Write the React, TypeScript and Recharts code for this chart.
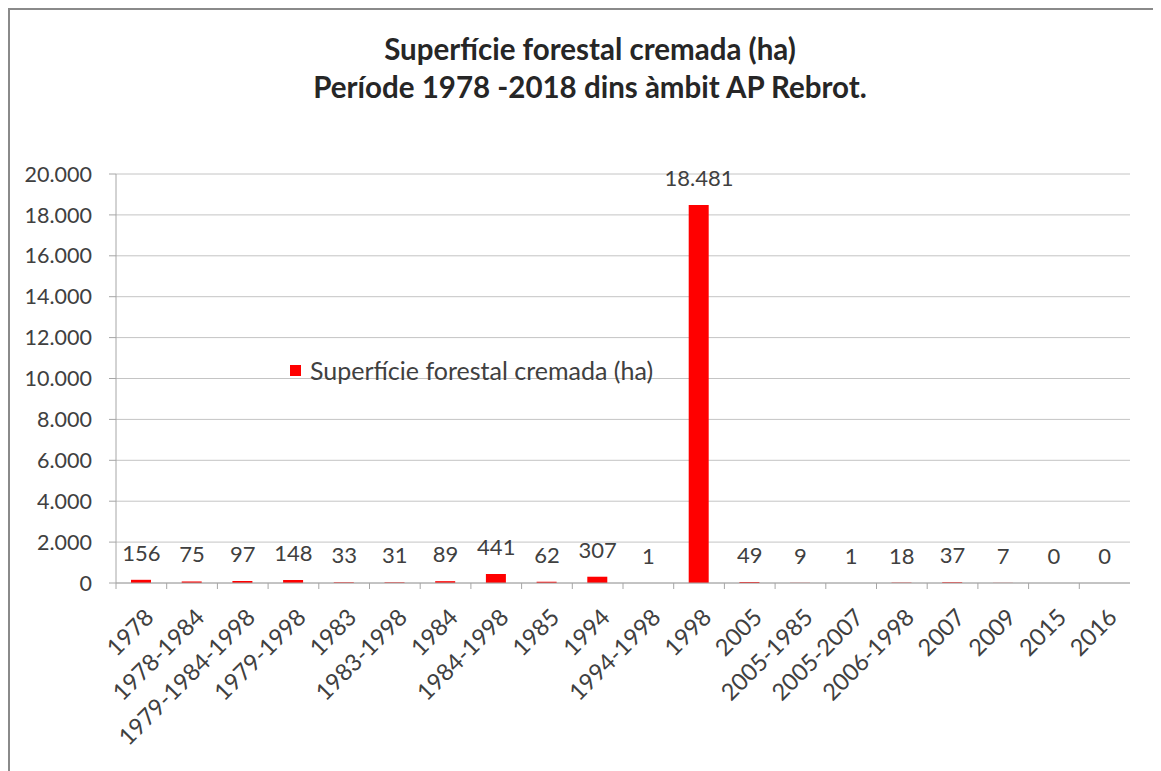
import { ComposedChart, Bar, Line, XAxis, YAxis, CartesianGrid, Legend, LabelList } from 'recharts'

const CATEGORIES = [
  '1978', '1978-1984', '1979-1984-1998', '1979-1998', '1983', '1983-1998', '1984',
  '1984-1998', '1985', '1994', '1994-1998', '1998', '2005', '2005-1985', '2005-2007',
  '2006-1998', '2007', '2009', '2015', '2016',
]
const HECTARES = [156, 75, 97, 148, 33, 31, 89, 441, 62, 307, 1, 18481, 49, 9, 1, 18, 37, 7, 0, 0]
const Y_TICKS = [0, 2000, 4000, 6000, 8000, 10000, 12000, 14000, 16000, 18000, 20000]

const SERIES = 'Superfície forestal cremada (ha)'
const FONT = 'Lato, "Open Sans", sans-serif'
const TEXT = '#404040'
const RED = '#ff0000'

const fmt = (v: number) => String(v).replace(/\B(?=(\d{3})+(?!\d))/g, '.')

const data = CATEGORIES.map((c, i) => ({ name: c, value: HECTARES[i] }))

function XTick(props: any) {
  const { x, y, payload } = props
  const half = payload?.offset ?? 25
  return (
    <g>
      <line x1={x - half} x2={x - half} y1={y - 8} y2={y - 2} stroke="#a6a6a6" />
      <text
        x={0}
        y={0}
        dy="0.35em"
        transform={`translate(${x + 8},${y + 22}) rotate(-45)`}
        textAnchor="end"
        fill={TEXT}
        fontSize={23.5}
        fontFamily={FONT}
      >
        {payload.value}
      </text>
    </g>
  )
}

// value labels hang off an invisible line so the zeros get one too
function ValueLabel(props: any) {
  const { x, y, value } = props
  return (
    <text x={x} y={y - 19} textAnchor="middle" fill={TEXT} fontSize={22} fontFamily={FONT}>
      {fmt(Number(value))}
    </text>
  )
}

function LegendBox() {
  return (
    <div style={{ display: 'flex', alignItems: 'center', fontSize: 25, fontFamily: FONT, color: TEXT }}>
      <span style={{ width: 11, height: 11, background: RED, marginRight: 9 }} />
      <span>{SERIES}</span>
    </div>
  )
}

export default function App() {
  return (
    <div
      style={{
        width: 1151,
        height: 761,
        borderTop: '2px solid #8a8a8a',
        borderLeft: '2px solid #8a8a8a',
        background: '#fff',
        position: 'relative',
        fontFamily: FONT,
      }}
    >
      <div
        style={{
          position: 'absolute',
          top: 20,
          left: 0,
          width: 1160,
          textAlign: 'center',
          fontWeight: 700,
          fontSize: 29.5,
          lineHeight: '38px',
          color: '#262626',
        }}
      >
        <div>Superfície forestal cremada (ha)</div>
        <div>Període 1978 -2018 dins àmbit AP Rebrot.</div>
      </div>
      <ComposedChart
        width={1151}
        height={761}
        data={data}
        margin={{ top: 164, right: 31, left: 0, bottom: 38 }}
        barSize={20}
      >
        <CartesianGrid vertical={false} stroke="#c4c4c4" />
        <XAxis
          dataKey="name"
          interval={0}
          height={150}
          tickLine={false}
          stroke="#a6a6a6"
          tick={<XTick />}
        />
        <YAxis
          domain={[0, 20000]}
          ticks={Y_TICKS}
          width={106}
          tickSize={7}
          tickMargin={17}
          stroke="#a6a6a6"
          tickFormatter={fmt}
          tick={{ fill: TEXT, fontSize: 21.5, fontFamily: FONT }}
        />
        <Legend
          layout="horizontal"
          verticalAlign="middle"
          align="center"
          content={<LegendBox />}
          wrapperStyle={{ left: 280, top: 345, width: 'auto' }}
        />
        <Bar dataKey="value" name={SERIES} fill={RED} isAnimationActive={false} />
        <Line
          dataKey="value"
          stroke="none"
          dot={false}
          activeDot={false}
          legendType="none"
          isAnimationActive={false}
        >
          <LabelList dataKey="value" content={<ValueLabel />} />
        </Line>
      </ComposedChart>
    </div>
  )
}
